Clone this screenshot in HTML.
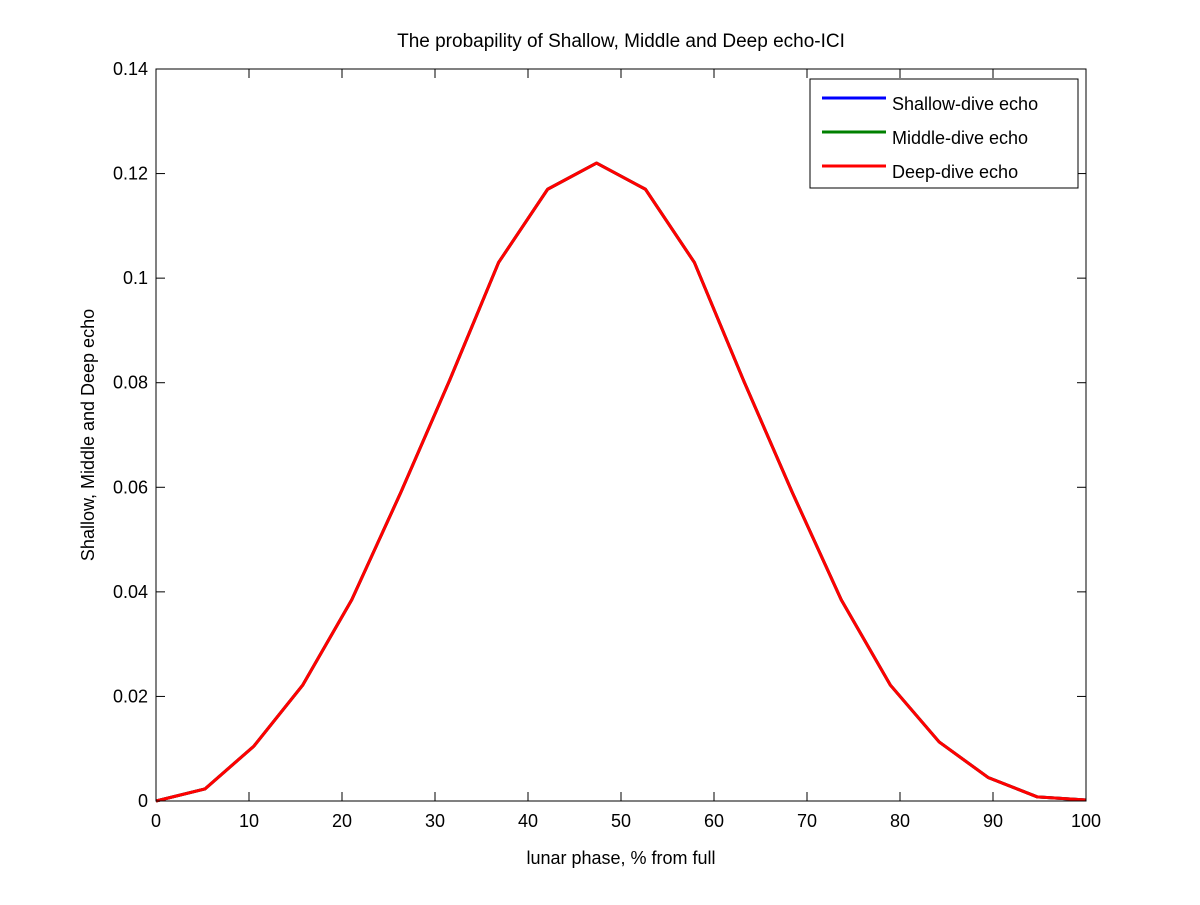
<!DOCTYPE html>
<html><head><meta charset="utf-8"><style>
body{margin:0;background:#fff;}
svg text{font-family:"Liberation Sans",sans-serif;fill:#000;}
</style></head><body>
<svg id="chart" width="1200" height="900">
<rect width="1200" height="900" fill="#fff"/>
<text x="621" y="47" font-size="19" text-anchor="middle">The probapility of Shallow, Middle and Deep echo-ICI</text>
<text x="621" y="864" font-size="18" text-anchor="middle">lunar phase, % from full</text>
<text x="0" y="0" font-size="18" text-anchor="middle" transform="translate(94,435) rotate(-90)">Shallow, Middle and Deep echo</text>
<g id="ticks"></g>
<g id="series"></g>
<rect x="156" y="69" width="930" height="732" fill="none" stroke="#000" stroke-width="1"/>
<g>
<rect x="810" y="79" width="268" height="109" fill="#fff" stroke="#000" stroke-width="1"/>
<line x1="822" y1="98" x2="886" y2="98" stroke="#0000ff" stroke-width="3"/>
<text x="892" y="110" font-size="18">Shallow-dive echo</text>
<line x1="822" y1="132" x2="886" y2="132" stroke="#008000" stroke-width="3"/>
<text x="892" y="144" font-size="18">Middle-dive echo</text>
<line x1="822" y1="166" x2="886" y2="166" stroke="#ff0000" stroke-width="3"/>
<text x="892" y="178" font-size="18">Deep-dive echo</text>
</g>
</svg>
<script>
const xTicks=[0,10,20,30,40,50,60,70,80,90,100];
const yTicks=[0,0.02,0.04,0.06,0.08,0.1,0.12,0.14];
const yTickLabels=["0","0.02","0.04","0.06","0.08","0.1","0.12","0.14"];
const phase=[0,5.26,10.53,15.79,21.05,26.32,31.58,36.84,42.11,47.37,52.63,57.89,63.16,68.42,73.68,78.95,84.21,89.47,94.74,100];
const shallow=[0,0.0023,0.0105,0.0222,0.0385,0.059,0.0805,0.103,0.117,0.122,0.117,0.103,0.0805,0.059,0.0385,0.0222,0.0113,0.0045,0.0008,0.0002];
const middle=[0,0.0023,0.0105,0.0222,0.0385,0.059,0.0805,0.103,0.117,0.122,0.117,0.103,0.0805,0.059,0.0385,0.0222,0.0113,0.0045,0.0008,0.0002];
const deep=[0,0.0023,0.0105,0.0222,0.0385,0.059,0.0805,0.103,0.117,0.122,0.117,0.103,0.0805,0.059,0.0385,0.0222,0.0113,0.0045,0.0008,0.0002];
const X0=156,X1=1086,Y0=801,Y1=69;
function xs(v){return X0+(v-0)/(100-0)*(X1-X0);}
function ys(v){return Y0-(v-0)/(0.14-0)*(Y0-Y1);}
const NS="http://www.w3.org/2000/svg";
const tg=document.getElementById('ticks');
function mk(tag,attrs,parent){const e=document.createElementNS(NS,tag);for(const k in attrs)e.setAttribute(k,attrs[k]);parent.appendChild(e);return e;}
xTicks.forEach(function(t){
  const x=xs(t);
  const a=mk('line',{x1:x,y1:Y0,x2:x,y2:Y0-9,stroke:'#000'},tg);
  
  
  const b=mk('line',{x1:x,y1:Y1,x2:x,y2:Y1+9,stroke:'#000'},tg);
  
  
  const l=mk('text',{x:x,y:Y0+26,'font-size':18,'text-anchor':'middle'},tg);
  l.textContent=String(t);
  
  
});
yTicks.forEach(function(t,i){
  const y=ys(t);
  const a=mk('line',{x1:X0,y1:y,x2:X0+9,y2:y,stroke:'#000'},tg);
  
  
  const b=mk('line',{x1:X1,y1:y,x2:X1-9,y2:y,stroke:'#000'},tg);
  
  
  const l=mk('text',{x:X0-8,y:y+6,'font-size':18,'text-anchor':'end'},tg);
  l.textContent=yTickLabels[i];
  
  
});
const sg=document.getElementById('series');
[[shallow,'#0000ff','shallow-line'],[middle,'#008000','middle-line'],[deep,'#ff0000','deep-line']].forEach(function(s){
  const pts=phase.map(function(p,i){return xs(p)+','+ys(s[0][i]);}).join(' ');
  const pl=mk('polyline',{points:pts,fill:'none',stroke:s[1],'stroke-width':3,'stroke-linejoin':'round'},sg);
  
  
});
</script>
</body></html>
